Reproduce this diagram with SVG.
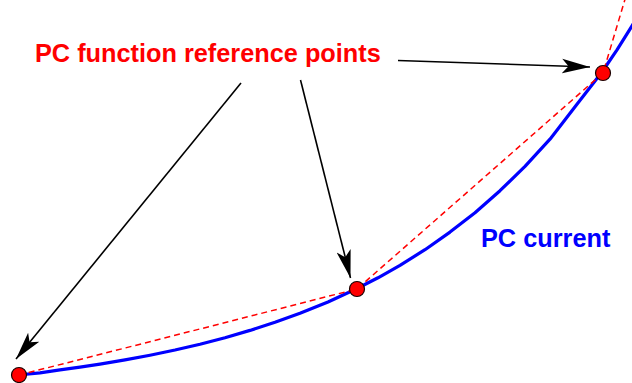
<svg xmlns="http://www.w3.org/2000/svg" width="632" height="383" viewBox="0 0 632 383">
<style>
.lbl{font-family:"Liberation Sans",Arial,sans-serif;font-weight:bold;font-size:25.3px}
.arr{stroke:#000;stroke-width:1.6;fill:none;marker-end:url(#ah)}
.dot{fill:#ff0000;stroke:#1a0000;stroke-width:1.2}
</style>
<defs>
<marker id="ah" markerUnits="userSpaceOnUse" orient="auto" markerWidth="30" markerHeight="16" refX="28" refY="8" viewBox="0 0 30 16">
<path d="M28,8 L0,0.8 L6.5,8 L0,15.2 Z" fill="#000"/>
</marker>
</defs>
<g id="curve">
<polyline fill="none" stroke="#0000ff" stroke-width="3.2" stroke-linejoin="round" points="18,375 40,372.8 60,369.9 80,367.2 100,364.1 125,359.9 150,355.2 175,350.0 200,344.2 225,337.7 250,330.4 275,322.3 300,313.3 328,302.0 356,289.0 378,277.8 400,265.3 425,249.7 450,232.1 475,212.7 500,190.7 525,166.4 550,139.2 576,105.6 602,72.0 617,49.8 632,25.9 640,13"/>
</g>
<g id="dashed">
<polyline fill="none" stroke="#ff0000" stroke-width="1.5" stroke-dasharray="6,4" points="19,375 357,289 603,73 626,-4"/>
</g>
<g id="connectors">
<line class="arr" x1="241" y1="83" x2="16" y2="359"/>
<line class="arr" x1="300.5" y1="80" x2="350.5" y2="278"/>
<line class="arr" x1="398" y1="60.5" x2="590" y2="67"/>
</g>
<g id="p1"><circle class="dot" cx="19" cy="375" r="7.5"/></g>
<g id="p2"><circle class="dot" cx="357" cy="289" r="7.5"/></g>
<g id="p3"><circle class="dot" cx="603" cy="73" r="7.5"/></g>
<g id="label-ref"><text class="lbl" x="35" y="62" fill="#ff0000">PC function reference points</text></g>
<g id="label-current"><text class="lbl" x="481" y="247" fill="#0000ff">PC current</text></g>
</svg>
